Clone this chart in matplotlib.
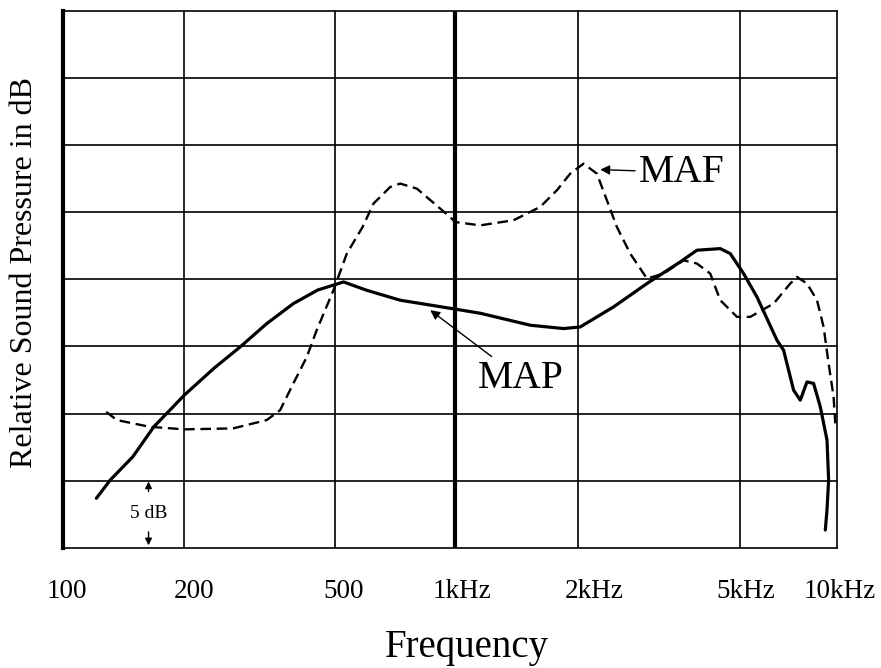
import numpy as np
import matplotlib
matplotlib.use("Agg")
import matplotlib.pyplot as plt
from matplotlib.transforms import ScaledTranslation

plt.rcParams['font.family'] = ['Liberation Serif', 'DejaVu Serif']

# ---------------- data ----------------
map_freq = [121, 131, 149, 168, 200, 240, 281, 330, 388, 450, 525, 600, 728, 971,
            1152, 1528, 1844, 2026, 2445, 2953, 3563, 3915, 4466, 4725, 5121,
            5636, 6505, 6820, 7326, 7687, 8065, 8455, 8872, 9309, 9417, 9309,
            9196]
map_db = [3.70, 5.06, 6.79, 9.02, 11.38, 13.40, 14.97, 16.70, 18.19, 19.20,
          19.80, 19.18, 18.44, 17.84, 17.47, 16.58, 16.33, 16.45, 17.94, 19.68,
          21.29, 22.16, 22.28, 21.91, 20.42, 18.68, 15.46, 14.72, 11.75, 11.00,
          12.36, 12.25, 10.51, 8.03, 5.06, 2.83, 1.34]

maf_freq = [128, 136, 164, 200, 269, 330, 358, 388, 421, 447, 495, 535, 586,
            624, 687, 728, 802, 971, 1000, 1152, 1390, 1616, 1776, 1915, 2064,
            2226, 2356, 2492, 2687, 2953, 3242, 3630, 3915, 4221, 4466, 4908,
            5373, 6350, 7155, 7507, 8065, 8665, 9085, 9417, 9759, 9878]
maf_db = [10.13, 9.52, 9.02, 8.83, 8.90, 9.52, 10.26, 12.25, 14.22, 16.21,
          19.18, 21.91, 23.89, 25.63, 26.86, 27.12, 26.74, 24.63, 24.26, 24.01,
          24.39, 25.38, 26.62, 27.86, 28.60, 27.86, 25.87, 23.89, 21.91, 20.05,
          20.42, 21.41, 21.17, 20.42, 18.44, 17.20, 17.20, 18.19, 19.68, 20.17,
          19.68, 18.44, 16.45, 13.73, 11.25, 9.27]

tick_freqs = [100, 200, 500, 1000, 2000, 5000, 10000]
tick_labels = ['100', '200', '500', '1kHz', '2kHz', '5kHz', '10kHz']
grid_db = [5, 10, 15, 20, 25, 30, 35]

# axis warp of the printed frequency axis (relative spacing of gridlines)
WARP_LOG = np.log10(tick_freqs)
WARP_POS = np.array([0.0, 121.3, 272.0, 392.0, 514.7, 677.0, 773.7])


def fwd(x):
    x = np.asarray(x, dtype=float)
    lx = np.log10(np.clip(x, 1e-9, None))
    y = np.interp(lx, WARP_LOG, WARP_POS)
    s0 = (WARP_POS[1] - WARP_POS[0]) / (WARP_LOG[1] - WARP_LOG[0])
    s1 = (WARP_POS[-1] - WARP_POS[-2]) / (WARP_LOG[-1] - WARP_LOG[-2])
    y = np.where(lx < WARP_LOG[0], WARP_POS[0] + (lx - WARP_LOG[0]) * s0, y)
    y = np.where(lx > WARP_LOG[-1], WARP_POS[-1] + (lx - WARP_LOG[-1]) * s1, y)
    return y


def inv(y):
    y = np.asarray(y, dtype=float)
    s0 = (WARP_POS[1] - WARP_POS[0]) / (WARP_LOG[1] - WARP_LOG[0])
    s1 = (WARP_POS[-1] - WARP_POS[-2]) / (WARP_LOG[-1] - WARP_LOG[-2])
    lx = np.interp(y, WARP_POS, WARP_LOG)
    lx = np.where(y < WARP_POS[0], WARP_LOG[0] + (y - WARP_POS[0]) / s0, lx)
    lx = np.where(y > WARP_POS[-1], WARP_LOG[-1] + (y - WARP_POS[-1]) / s1, lx)
    return 10 ** lx


W, H, DPI = 881, 668, 100
fig = plt.figure(figsize=(W / DPI, H / DPI), dpi=DPI)
ax = fig.add_axes([63 / W, 1 - 548 / H, (837 - 63) / W, (548 - 10.5) / H])
ax.set_xscale('function', functions=(fwd, inv))
ax.set_xlim(100, 10000)
ax.set_ylim(0, 40)

# grid
for f in tick_freqs[1:-1]:
    ax.axvline(f, color='black', lw=3.0 if f == 1000 else 1.2, zorder=1)
for d in grid_db:
    ax.axhline(d, color='black', lw=1.2, zorder=1)

for side in ['top', 'right', 'bottom']:
    ax.spines[side].set_linewidth(1.2)
ax.spines['left'].set_linewidth(3.0)

# curves
ax.plot(map_freq, map_db, color='black', lw=2.3, solid_capstyle='round',
        solid_joinstyle='round', zorder=3)
ax.plot(maf_freq, maf_db, color='black', lw=1.7, dashes=(4.5, 2.4), zorder=3)

# ticks
ax.set_yticks([])
ax.set_xticks(tick_freqs)
ax.set_xticklabels(tick_labels, fontsize=19.5)
ax.xaxis.set_minor_locator(matplotlib.ticker.NullLocator())
ax.tick_params(axis='x', length=0, pad=22)
offsets_px = [4, 10, 9, 7, 16, 5, 3]
for lab, dx in zip(ax.get_xticklabels(), offsets_px):
    lab.set_transform(lab.get_transform() +
                      ScaledTranslation(dx / DPI, 0, fig.dpi_scale_trans))

# annotations
ax.annotate('MAF', xy=(2268, 28.16), xytext=(2827, 27.95), fontsize=28.5,
            ha='left', va='center',
            arrowprops=dict(arrowstyle='-|>', color='black', lw=1.0,
                            mutation_scale=14, shrinkA=1, shrinkB=0))
ax.annotate('MAP', xy=(866, 17.7), xytext=(1138, 12.6), fontsize=28.5,
            ha='left', va='center',
            arrowprops=dict(arrowstyle='-|>', color='black', lw=1.0,
                            mutation_scale=14, shrinkA=1, shrinkB=0))

ax.text(163, 2.6, '5 dB', fontsize=14, ha='center', va='center')
ax.annotate('', xy=(163, 4.95), xytext=(163, 4.2),
            arrowprops=dict(arrowstyle='-|>', color='black', lw=1.0,
                            mutation_scale=10, shrinkA=0, shrinkB=0))
ax.annotate('', xy=(163, 0.2), xytext=(163, 1.2),
            arrowprops=dict(arrowstyle='-|>', color='black', lw=1.0,
                            mutation_scale=10, shrinkA=0, shrinkB=0))

fig.text(467 / W, 11 / H, 'Frequency', fontsize=28, ha='center', va='baseline')
fig.text(25 / W, 1 - 272 / H, 'Relative Sound Pressure in dB', fontsize=23,
         rotation=90, ha='center', va='center')

fig.savefig('out.png', dpi=DPI)
